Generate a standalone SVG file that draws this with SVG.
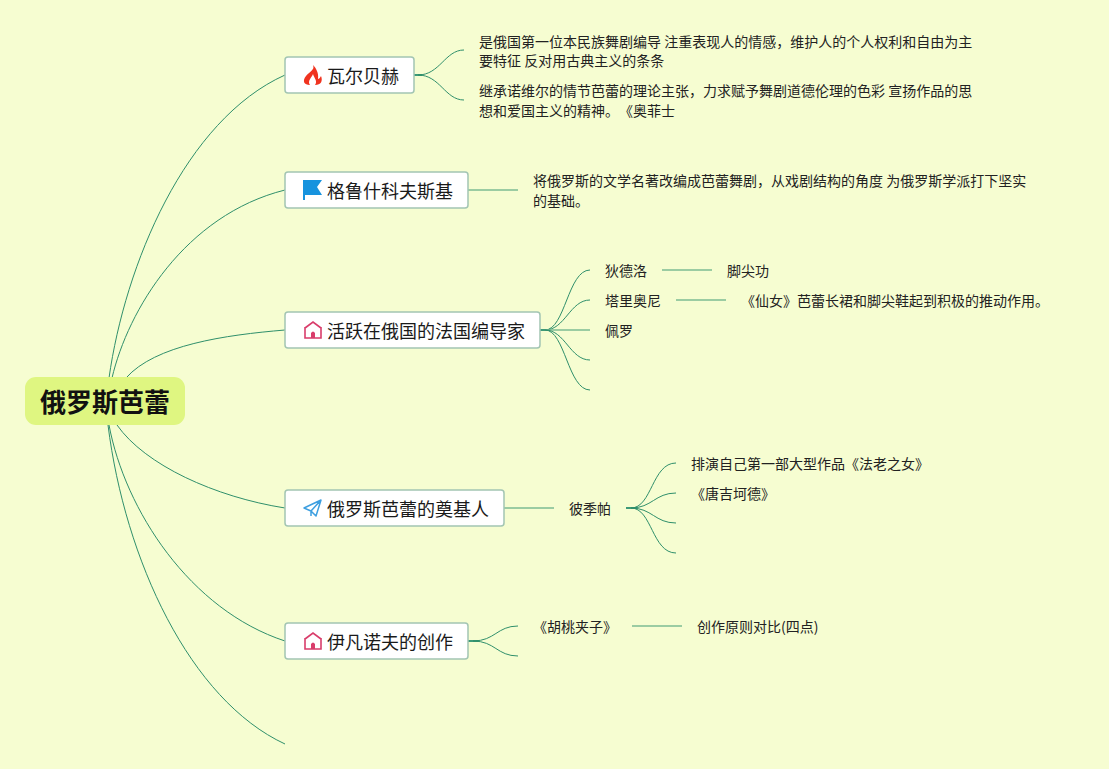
<svg xmlns="http://www.w3.org/2000/svg" width="1109" height="769" viewBox="0 0 1109 769">
<style>
text{font-family:"Noto Sans CJK SC","Noto Sans",sans-serif;fill:#222;text-spacing-trim:space-all;font-feature-settings:"chws" 0,"palt" 0}
.t{font-size:14px}
.n{font-size:18px;fill:#1a1a1a}
.box{fill:#fff;stroke:#a3c5b3;stroke-width:1.5}
.c{fill:none;stroke:#2f8f6b;stroke-width:1}
.s{fill:none;stroke:#7dbb92;stroke-width:1.3}
.k{fill:none;stroke:#3d9a78;stroke-width:2}
</style>
<rect width="1109" height="769" fill="#f6fdd1"/>
<g id="connectors">
<path class="c" d="M109 378C125 265 185 120 285 75"/>
<path class="c" d="M112 378C128 310 185 215 285 190"/>
<path class="c" d="M126 378C155 345 225 335 285 330"/>
<path class="c" d="M117 425C145 465 215 497 285 508"/>
<path class="c" d="M109 425C125 510 190 610 285 641"/>
<path class="c" d="M108 425C125 560 190 700 285 744"/>
<path class="k" d="M414 75H422"/>
<path class="c" d="M418 75C440 75 445 50 464 50"/>
<path class="c" d="M418 75C440 75 445 100 464 100"/>
<path class="s" d="M468 190H518"/>
<path class="k" d="M540 330H550"/>
<path class="c" d="M545 330C565 330 568 270 590 270"/>
<path class="c" d="M545 330C565 330 570 300 590 300"/>
<path class="s" d="M545 330H590"/>
<path class="c" d="M545 330C565 330 570 360 590 360"/>
<path class="c" d="M545 330C565 330 568 390 590 390"/>
<path class="s" d="M662 270H712"/>
<path class="s" d="M676 300H726"/>
<path class="s" d="M504 508H554"/>
<path class="k" d="M626 508H636"/>
<path class="c" d="M631 508C652 508 652 463 676 463"/>
<path class="c" d="M631 508C652 508 655 493 676 493"/>
<path class="c" d="M631 508C652 508 655 523 676 523"/>
<path class="c" d="M631 508C652 508 652 553 676 553"/>
<path class="k" d="M468 641H478"/>
<path class="c" d="M473 641C495 641 497 626 518 626"/>
<path class="c" d="M473 641C495 641 497 656 518 656"/>
<path class="s" d="M632 626H682"/>
</g>
<g id="root">
<rect x="25" y="377" width="160" height="48" rx="11" fill="#dff681"/>
<text x="105" y="412" text-anchor="middle" font-size="26" font-weight="700" style="fill:#111">俄罗斯芭蕾</text>
</g>
<g id="node1">
<rect class="box" x="285" y="57" width="129" height="36" rx="3"/>
<path d="M313 65C315 70 310 71 306 76C302 81 304 85 310 85C307 81 312 77 313 74C314 78 318 81 315 85C321 85 323 81 321 76C320 78 319 79 318 79C319 73 316 68 313 65Z" fill="#f0331f"/>
<text class="n" x="327" y="83">瓦尔贝赫</text>
</g>
<g id="node2">
<rect class="box" x="285" y="172" width="183" height="36" rx="3"/>
<path d="M303 180H322L317 187L322 195H305V200H303Z" fill="#1793de"/>
<text class="n" x="327" y="198">格鲁什科夫斯基</text>
</g>
<g id="node3">
<rect class="box" x="285" y="312" width="255" height="36" rx="3"/>
<path d="M305 328L313 322L321 328M305 327V338H321V327" fill="none" stroke="#d93d6b" stroke-width="1.6"/>
<path d="M311 338V333Q313 330 315 333V338Z" fill="#d93d6b"/>
<text class="n" x="327" y="338">活跃在俄国的法国编导家</text>
</g>
<g id="node4">
<rect class="box" x="285" y="490" width="219" height="36" rx="3"/>
<path d="M304 508L321 500L316 516L311 511ZM321 500L311 511V516" fill="none" stroke="#3d9fe0" stroke-width="1.5" stroke-linejoin="round"/>
<text class="n" x="327" y="516">俄罗斯芭蕾的奠基人</text>
</g>
<g id="node5">
<rect class="box" x="285" y="623" width="183" height="36" rx="3"/>
<path d="M305 639L313 633L321 639M305 638V649H321V638" fill="none" stroke="#d93d6b" stroke-width="1.6"/>
<path d="M311 649V644Q313 641 315 644V649Z" fill="#d93d6b"/>
<text class="n" x="327" y="649">伊凡诺夫的创作</text>
</g>
<g id="t1"><text class="t" x="479" y="47">是俄国第一位本民族舞剧编导 注重表现人的情感，维护人的个人权利和自由为主</text><text class="t" x="479" y="66">要特征 反对用古典主义的条条</text></g>
<g id="t2"><text class="t" x="479" y="96">继承诺维尔的情节芭蕾的理论主张，力求赋予舞剧道德伦理的色彩 宣扬作品的思</text><text class="t" x="479" y="116">想和爱国主义的精神。《奥菲士</text></g>
<g id="t3"><text class="t" x="533" y="186">将俄罗斯的文学名著改编成芭蕾舞剧，从戏剧结构的角度 为俄罗斯学派打下坚实</text><text class="t" x="533" y="206">的基础。</text></g>
<g id="t4"><text class="t" x="605" y="276">狄德洛</text></g>
<g id="t5"><text class="t" x="727" y="276">脚尖功</text></g>
<g id="t6"><text class="t" x="605" y="306">塔里奥尼</text></g>
<g id="t7"><text class="t" x="741" y="306">《仙女》芭蕾长裙和脚尖鞋起到积极的推动作用。</text></g>
<g id="t8"><text class="t" x="605" y="336">佩罗</text></g>
<g id="t9"><text class="t" x="569" y="514">彼季帕</text></g>
<g id="t10"><text class="t" x="691" y="469">排演自己第一部大型作品《法老之女》</text></g>
<g id="t11"><text class="t" x="691" y="499">《唐吉坷德》</text></g>
<g id="t12"><text class="t" x="533" y="632">《胡桃夹子》</text></g>
<g id="t13"><text class="t" x="697" y="632">创作原则对比(四点)</text></g>
</svg>
